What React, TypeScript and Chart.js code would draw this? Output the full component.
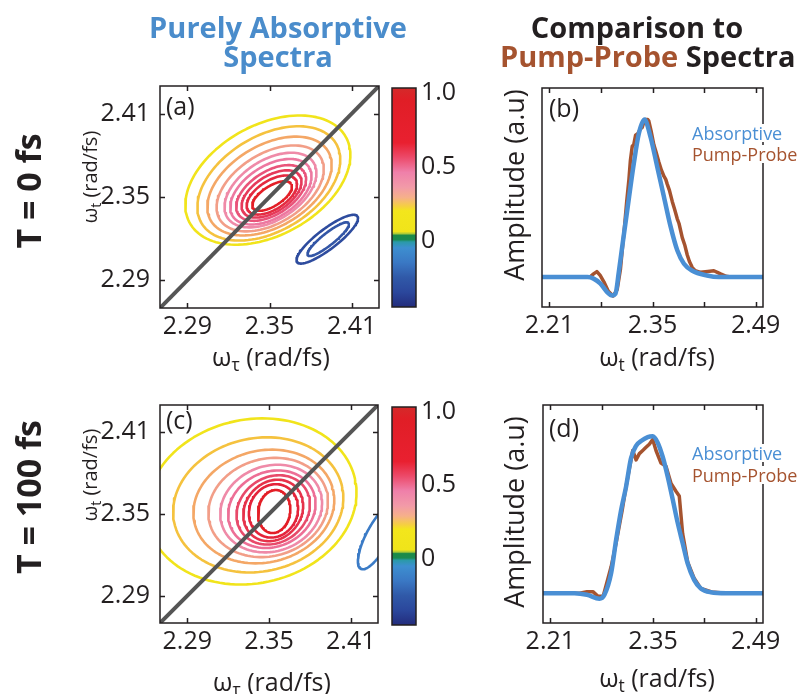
import React, { useEffect, useRef } from 'react';
import { Chart, registerables } from 'chart.js';

Chart.register(...registerables);

const W = 801;
const H = 694;
const FONT = "'Open Sans', 'DejaVu Sans', sans-serif";
const INK = '#231f20';
const BLUE = '#4a8fd4';
const BROWN = '#a5532f';

// ---------------- axes / tick data ----------------
const contourRange = [2.27, 2.43];
const contourTicks = [2.29, 2.35, 2.41];
const spectrumRange = [2.2, 2.5];
const spectrumTicks = [2.21, 2.28, 2.35, 2.42, 2.49];
const spectrumLabeledTicks = [2.21, 2.35, 2.49];
const amplitudeRange = [-0.19, 1.2];
const colorbarRange = [-0.45, 1.03];
const colorbarTicks = [0, 0.5, 1.0];
const colorbarTickLabels = ['0', '0.5', '1.0'];
const colormapValues = [1.03, 0.95, 0.66, 0.56, 0.46, 0.36, 0.29, 0.23, 0.2, 0.06, 0.045, 0.035, 0.005, -0.01, -0.05, -0.15, -0.25, -0.35, -0.45];
const colormapColors = ['#d42a2a', '#e01e26', '#e92030', '#ec4a6a', '#ef80aa', '#f29aa8', '#f6b08a', '#f5d040', '#f3e61c', '#f0e41a', '#a8c838', '#1b8a48', '#1a8a50', '#2a9aa8', '#3d8fd0', '#3a78c4', '#3059a8', '#2b479c', '#232c7c'];

// ---------------- T = 0 fs : 2D absorptive contours ----------------
const t0ContourX = [2.3488, 2.3495, 2.35, 2.3505, 2.3507, 2.351, 2.3512, 2.3515, 2.3517, 2.3519];
const t0ContourY = [2.3622, 2.3598, 2.3579, 2.3562, 2.355, 2.3538, 2.3529, 2.3522, 2.3514, 2.3507];
const t0ContourMajor = [0.0649, 0.0569, 0.0496, 0.0431, 0.0372, 0.033, 0.0285, 0.0245, 0.0207, 0.0165];
const t0ContourMinor = [0.0399, 0.0344, 0.0295, 0.0252, 0.0216, 0.0187, 0.0156, 0.013, 0.0104, 0.0072];
const t0ContourAngle = [28, 30, 30, 31, 32, 32, 32, 32, 32, 32];
const t0ContourColors = ['#f1e41b', '#f5c23e', '#f4a766', '#f29e88', '#ef8aa8', '#ed78a0', '#e9547a', '#e63a5a', '#e42a40', '#e31e26'];
const t0NegX = [2.3922, 2.3929];
const t0NegY = [2.3196, 2.3196];
const t0NegMajor = [0.0276, 0.0189];
const t0NegMinor = [0.0073, 0.0044];
const t0NegAngle = [37, 38];
const t0NegColors = ['#2e4c9e', '#3356a6'];

// ---------------- T = 100 fs : 2D absorptive contours ----------------
const t100ContourX = [2.3372, 2.3421, 2.3462, 2.3494, 2.3516, 2.3521, 2.3531, 2.3531, 2.3533, 2.3538];
const t100ContourY = [2.3592, 2.3567, 2.3555, 2.3548, 2.354, 2.3535, 2.353, 2.3526, 2.3523, 2.3518];
const t100ContourMajor = [0.0777, 0.063, 0.0523, 0.0445, 0.0381, 0.033, 0.0283, 0.0239, 0.02, 0.0159];
const t100ContourMinor = [0.0601, 0.0489, 0.041, 0.0357, 0.0313, 0.0274, 0.0239, 0.0205, 0.0176, 0.0117];
const t100ContourAngle = [12, 12, 14, 16, 20, 25, 35, 50, 65, 80];
const t100ContourColors = ['#f1e41b', '#f5c23e', '#f4a766', '#f29e88', '#ef8aa8', '#ed6f96', '#e84a6a', '#e6324a', '#e4243a', '#e31e26'];
const t100NegX = [2.43];
const t100NegY = [2.3335];
const t100NegMajor = [0.0269];
const t100NegMinor = [0.0086];
const t100NegAngle = [62];
const t100NegColors = ['#3b7bc6'];

// ---------------- T = 0 fs : projected spectra ----------------
const t0AbsX = [2.2, 2.24, 2.262, 2.27, 2.279, 2.2884, 2.2952, 2.2997, 2.3042, 2.3088, 2.3156, 2.3246, 2.3314, 2.3391, 2.3473, 2.3564, 2.3655, 2.3746, 2.3836, 2.3927, 2.404, 2.424, 2.44, 2.5];
const t0AbsY = [0, 0, 0, -0.01, -0.04, -0.095, -0.117, -0.106, 0.03, 0.19, 0.42, 0.72, 0.91, 1.0, 0.89, 0.7, 0.51, 0.32, 0.17, 0.085, 0.04, 0.01, 0, 0];
const t0PPX = [2.2, 2.265, 2.27, 2.2745, 2.279, 2.284, 2.29, 2.2965, 2.302, 2.3065, 2.3095, 2.312, 2.315, 2.318, 2.32, 2.3225, 2.3245, 2.327, 2.33, 2.3335, 2.336, 2.338, 2.3405, 2.3435, 2.345, 2.348, 2.3518, 2.355, 2.3586, 2.362, 2.3655, 2.368, 2.37, 2.373, 2.3768, 2.38, 2.3836, 2.386, 2.3904, 2.394, 2.3972, 2.4, 2.404, 2.408, 2.4152, 2.425, 2.4333, 2.438, 2.4424, 2.45, 2.456, 2.5];
const t0PPY = [0, 0, 0.02, 0.035, 0.01, -0.03, -0.09, -0.12, -0.08, 0.05, 0.2, 0.32, 0.48, 0.62, 0.74, 0.83, 0.84, 0.9, 0.91, 0.94, 0.95, 0.98, 1.0, 1.0, 0.99, 0.93, 0.84, 0.79, 0.73, 0.68, 0.64, 0.62, 0.59, 0.55, 0.48, 0.43, 0.37, 0.34, 0.25, 0.2, 0.14, 0.1, 0.06, 0.04, 0.03, 0.035, 0.04, 0.03, 0.02, 0.005, 0, 0];

// ---------------- T = 100 fs : projected spectra ----------------
const t100AbsX = [2.2, 2.243, 2.26, 2.277, 2.2838, 2.293, 2.2997, 2.3065, 2.3133, 2.32, 2.3269, 2.3337, 2.3428, 2.3496, 2.3564, 2.3632, 2.37, 2.3768, 2.3836, 2.3904, 2.3972, 2.4061, 2.4152, 2.4288, 2.45, 2.5];
const t100AbsY = [0, 0, -0.01, -0.035, -0.01, 0.13, 0.34, 0.53, 0.68, 0.86, 0.94, 0.97, 0.995, 1.0, 0.96, 0.87, 0.745, 0.6, 0.45, 0.32, 0.19, 0.085, 0.03, 0.006, 0, 0];
const t100PPX = [2.2, 2.25, 2.26, 2.268, 2.275, 2.282, 2.293, 2.2997, 2.308, 2.3133, 2.3224, 2.3269, 2.3314, 2.336, 2.3405, 2.345, 2.3496, 2.3541, 2.3609, 2.3677, 2.3746, 2.3813, 2.3858, 2.3904, 2.3972, 2.4061, 2.4152, 2.43, 2.45, 2.5];
const t100PPY = [0, 0, 0.01, 0.01, -0.02, -0.02, 0.17, 0.32, 0.53, 0.68, 0.91, 0.85, 0.89, 0.91, 0.93, 0.95, 0.98, 0.91, 0.83, 0.81, 0.7, 0.65, 0.62, 0.38, 0.2, 0.095, 0.03, 0.008, 0, 0];

// ---------------- layout ----------------
type Box = { left: number; top: number; right: number; bottom: number };
const boxA: Box = { left: 160, top: 86, right: 379, bottom: 308 };
const boxCbA: Box = { left: 392, top: 88, right: 416, bottom: 307 };
const boxB: Box = { left: 542, top: 88, right: 763, bottom: 307 };
const boxC: Box = { left: 160, top: 405, right: 378, bottom: 623 };
const boxCbC: Box = { left: 392, top: 407, right: 416, bottom: 625 };
const boxD: Box = { left: 543, top: 405, right: 763, bottom: 623 };

const Y_AXIS_W = 70;
const X_AXIS_H = 40;
const CB_AXIS_W = 50;

function ellipsePoints(cx: number, cy: number, a: number, b: number, deg: number) {
  const t = (deg * Math.PI) / 180;
  const pts: { x: number; y: number }[] = [];
  const n = 120;
  for (let i = 0; i <= n; i++) {
    const u = (2 * Math.PI * i) / n;
    const ex = a * Math.cos(u);
    const ey = b * Math.sin(u);
    pts.push({ x: cx + ex * Math.cos(t) - ey * Math.sin(t), y: cy + ex * Math.sin(t) + ey * Math.cos(t) });
  }
  return pts;
}

const framePlugin = {
  id: 'frame',
  afterDatasetsDraw(chart: any, _args: any, opts: any) {
    const { ctx, chartArea: a } = chart;
    ctx.save();
    ctx.strokeStyle = INK;
    ctx.lineWidth = 1.5;
    const len = 5;
    ctx.beginPath();
    (opts.xTicks || []).forEach((v: number) => {
      const p = Math.round(chart.scales.x.getPixelForValue(v)) + 0.5;
      ctx.moveTo(p, a.bottom);
      ctx.lineTo(p, a.bottom - len);
      ctx.moveTo(p, a.top);
      ctx.lineTo(p, a.top + len);
    });
    (opts.yTicks || []).forEach((v: number) => {
      const p = Math.round(chart.scales.y.getPixelForValue(v)) + 0.5;
      ctx.moveTo(a.left, p);
      ctx.lineTo(a.left + len, p);
      ctx.moveTo(a.right, p);
      ctx.lineTo(a.right - len, p);
    });
    ctx.stroke();
    ctx.strokeRect(a.left, a.top, a.right - a.left, a.bottom - a.top);
    ctx.restore();
  },
};

const tickFont = { family: FONT, size: 25 };

function contourConfig(
  box: Box,
  cx: number[], cy: number[], major: number[], minor: number[], angle: number[], colors: string[],
  nx: number[], ny: number[], nmajor: number[], nminor: number[], nangle: number[], ncolors: string[]
) {
  const datasets: any[] = [];
  datasets.push({
    data: [
      { x: contourRange[0], y: contourRange[0] },
      { x: contourRange[1], y: contourRange[1] },
    ],
    borderColor: '#555555',
    borderWidth: 4,
  });
  for (let i = cx.length - 1; i >= 0; i--) {
    datasets.push({ data: ellipsePoints(cx[i], cy[i], major[i], minor[i], angle[i]), borderColor: colors[i], borderWidth: 2.6 });
  }
  for (let i = 0; i < nx.length; i++) {
    datasets.push({ data: ellipsePoints(nx[i], ny[i], nmajor[i], nminor[i], nangle[i]), borderColor: ncolors[i], borderWidth: 2.6 });
  }
  datasets.forEach((d) => {
    d.showLine = true;
    d.pointRadius = 0;
    d.tension = 0;
    d.borderJoinStyle = 'round';
  });
  return {
    type: 'scatter',
    data: { datasets },
    plugins: [framePlugin],
    options: {
      responsive: false,
      animation: false,
      events: [],
      layout: { padding: { left: box.left - Y_AXIS_W, top: box.top, right: W - box.right, bottom: H - box.bottom - X_AXIS_H } },
      plugins: { legend: { display: false }, tooltip: { enabled: false }, frame: { xTicks: contourTicks, yTicks: contourTicks } },
      scales: {
        x: {
          type: 'linear', min: contourRange[0], max: contourRange[1],
          grid: { display: false, drawTicks: false }, border: { display: false },
          afterBuildTicks: (s: any) => { s.ticks = contourTicks.map((v) => ({ value: v })); },
          afterFit: (s: any) => { s.height = X_AXIS_H; },
          ticks: { font: tickFont, color: INK, padding: 4, maxRotation: 0, autoSkip: false, callback: (v: number) => v.toFixed(2) },
        },
        y: {
          type: 'linear', min: contourRange[0], max: contourRange[1],
          grid: { display: false, drawTicks: false }, border: { display: false },
          afterBuildTicks: (s: any) => { s.ticks = contourTicks.map((v) => ({ value: v })); },
          afterFit: (s: any) => { s.width = Y_AXIS_W; },
          ticks: { font: tickFont, color: INK, padding: 10, autoSkip: false, callback: (v: number) => v.toFixed(2) },
        },
      },
    },
  };
}

function colorbarConfig(box: Box) {
  return {
    type: 'bar',
    data: {
      labels: ['c'],
      datasets: [{
        data: [[colorbarRange[0], colorbarRange[1]]],
        borderWidth: 0,
        barPercentage: 1,
        categoryPercentage: 1,
        backgroundColor: (c: any) => {
          const chart = c.chart;
          if (!chart.chartArea) return 'transparent';
          const ys = chart.scales.y;
          const y0 = ys.getPixelForValue(colorbarRange[0]);
          const y1 = ys.getPixelForValue(colorbarRange[1]);
          const g = chart.ctx.createLinearGradient(0, y0, 0, y1);
          colormapValues.forEach((v, i) => {
            const f = (v - colorbarRange[0]) / (colorbarRange[1] - colorbarRange[0]);
            g.addColorStop(Math.min(1, Math.max(0, f)), colormapColors[i]);
          });
          return g;
        },
      }],
    },
    plugins: [framePlugin],
    options: {
      responsive: false,
      animation: false,
      events: [],
      layout: { padding: { left: box.left, top: box.top, right: W - box.right - CB_AXIS_W, bottom: H - box.bottom } },
      plugins: { legend: { display: false }, tooltip: { enabled: false }, frame: {} },
      scales: {
        x: { display: false },
        y: {
          position: 'right', min: colorbarRange[0], max: colorbarRange[1],
          grid: { display: false, drawTicks: false }, border: { display: false },
          afterBuildTicks: (s: any) => { s.ticks = colorbarTicks.map((v) => ({ value: v })); },
          afterFit: (s: any) => { s.width = CB_AXIS_W; },
          ticks: {
            font: tickFont, color: INK, padding: 5, autoSkip: false,
            callback: (v: number) => colorbarTickLabels[colorbarTicks.indexOf(v)] ?? '',
          },
        },
      },
    },
  };
}

function spectrumConfig(box: Box, ax: number[], ay: number[], px: number[], py: number[]) {
  const toPts = (xs: number[], ys: number[]) => xs.map((x, i) => ({ x, y: ys[i] }));
  return {
    type: 'line',
    data: {
      datasets: [
        { data: toPts(ax, ay), borderColor: BLUE, borderWidth: 4.5, pointRadius: 0, cubicInterpolationMode: 'monotone', borderCapStyle: 'round', borderJoinStyle: 'round' },
        { data: toPts(px, py), borderColor: BROWN, borderWidth: 3.5, pointRadius: 0, tension: 0, borderCapStyle: 'round', borderJoinStyle: 'round' },
      ],
    },
    plugins: [framePlugin],
    options: {
      responsive: false,
      animation: false,
      events: [],
      layout: { padding: { left: box.left, top: box.top, right: W - box.right, bottom: H - box.bottom - X_AXIS_H } },
      plugins: { legend: { display: false }, tooltip: { enabled: false }, frame: { xTicks: spectrumTicks } },
      scales: {
        x: {
          type: 'linear', min: spectrumRange[0], max: spectrumRange[1],
          grid: { display: false, drawTicks: false }, border: { display: false },
          afterBuildTicks: (s: any) => { s.ticks = spectrumTicks.map((v) => ({ value: v })); },
          afterFit: (s: any) => { s.height = X_AXIS_H; },
          ticks: {
            font: tickFont, color: INK, padding: 4, maxRotation: 0, autoSkip: false,
            callback: (v: number) => (spectrumLabeledTicks.some((t) => Math.abs(t - v) < 1e-6) ? v.toFixed(2) : ''),
          },
        },
        y: { type: 'linear', display: false, min: amplitudeRange[0], max: amplitudeRange[1] },
      },
    },
  };
}

function ChartCanvas({ make }: { make: () => any }) {
  const ref = useRef<HTMLCanvasElement>(null);
  useEffect(() => {
    const chart = new Chart(ref.current as HTMLCanvasElement, make());
    return () => chart.destroy();
  }, []);
  return (
    <canvas
      ref={ref}
      width={W}
      height={H}
      style={{ position: 'absolute', left: 0, top: 0, width: W, height: H, pointerEvents: 'none' }}
    />
  );
}

function Txt({ x, y, size, children, color = INK, bold = false, rotate = 0, align = 'center', bg }: any) {
  const tx = align === 'center' ? '-50%' : '0';
  return (
    <div
      style={{
        position: 'absolute', left: x, top: y, whiteSpace: 'nowrap', lineHeight: 1,
        fontFamily: FONT, fontSize: size, color, fontWeight: bold ? 700 : 400,
        transform: `translate(${tx}, -50%) rotate(${rotate}deg)`,
        transformOrigin: align === 'center' ? '50% 50%' : '0 50%',
        background: bg,
      }}
    >
      {children}
    </div>
  );
}

const subStyle: React.CSSProperties = { fontSize: '0.7em', verticalAlign: '-0.3em', lineHeight: 0 };

export default function App() {
  return (
    <div style={{ position: 'absolute', left: 0, top: 0, width: W, height: H, overflow: 'hidden', background: '#fff' }}>
      <ChartCanvas make={() => contourConfig(boxA, t0ContourX, t0ContourY, t0ContourMajor, t0ContourMinor, t0ContourAngle, t0ContourColors, t0NegX, t0NegY, t0NegMajor, t0NegMinor, t0NegAngle, t0NegColors)} />
      <ChartCanvas make={() => colorbarConfig(boxCbA)} />
      <ChartCanvas make={() => spectrumConfig(boxB, t0AbsX, t0AbsY, t0PPX, t0PPY)} />
      <ChartCanvas make={() => contourConfig(boxC, t100ContourX, t100ContourY, t100ContourMajor, t100ContourMinor, t100ContourAngle, t100ContourColors, t100NegX, t100NegY, t100NegMajor, t100NegMinor, t100NegAngle, t100NegColors)} />
      <ChartCanvas make={() => colorbarConfig(boxCbC)} />
      <ChartCanvas make={() => spectrumConfig(boxD, t100AbsX, t100AbsY, t100PPX, t100PPY)} />

      {/* column titles */}
      <Txt x={278} y={26} size={29} bold color="#4a8ccb">Purely Absorptive</Txt>
      <Txt x={278} y={55} size={29} bold color="#4a8ccb">Spectra</Txt>
      <Txt x={637} y={26} size={29} bold>Comparison to</Txt>
      <Txt x={500} y={55} size={29} bold align="left">
        <span style={{ color: BROWN }}>Pump-Probe</span> Spectra
      </Txt>

      {/* row labels */}
      <Txt x={28} y={191} size={34} bold rotate={-90}>T = 0 fs</Txt>
      <Txt x={28} y={497} size={34} bold rotate={-90}>T = 100 fs</Txt>

      {/* axis labels */}
      <Txt x={90} y={177} size={20} rotate={-90}>ω<sub style={subStyle}>t</sub> (rad/fs)</Txt>
      <Txt x={90} y={475} size={20} rotate={-90}>ω<sub style={subStyle}>t</sub> (rad/fs)</Txt>
      <Txt x={271} y={356} size={25}>ω<sub style={subStyle}>τ</sub> (rad/fs)</Txt>
      <Txt x={272} y={681} size={25}>ω<sub style={subStyle}>τ</sub> (rad/fs)</Txt>
      <Txt x={513} y={185} size={27} rotate={-90}>Amplitude (a.u)</Txt>
      <Txt x={513} y={512} size={27} rotate={-90}>Amplitude (a.u)</Txt>
      <Txt x={657} y={356} size={25}>ω<sub style={subStyle}>t</sub> (rad/fs)</Txt>
      <Txt x={657} y={677} size={25}>ω<sub style={subStyle}>t</sub> (rad/fs)</Txt>

      {/* panel letters */}
      <Txt x={166} y={105} size={25} align="left">(a)</Txt>
      <Txt x={549} y={107} size={25} align="left">(b)</Txt>
      <Txt x={166} y={419} size={25} align="left">(c)</Txt>
      <Txt x={549} y={427} size={25} align="left">(d)</Txt>

      {/* spectra legends */}
      <Txt x={692} y={133} size={18} align="left" color={BLUE} bg="#fff">Absorptive</Txt>
      <Txt x={692} y={154} size={18} align="left" color={BROWN} bg="#fff">Pump-Probe</Txt>
      <Txt x={692} y={453} size={18} align="left" color={BLUE} bg="#fff">Absorptive</Txt>
      <Txt x={692} y={475} size={18} align="left" color={BROWN} bg="#fff">Pump-Probe</Txt>
    </div>
  );
}
